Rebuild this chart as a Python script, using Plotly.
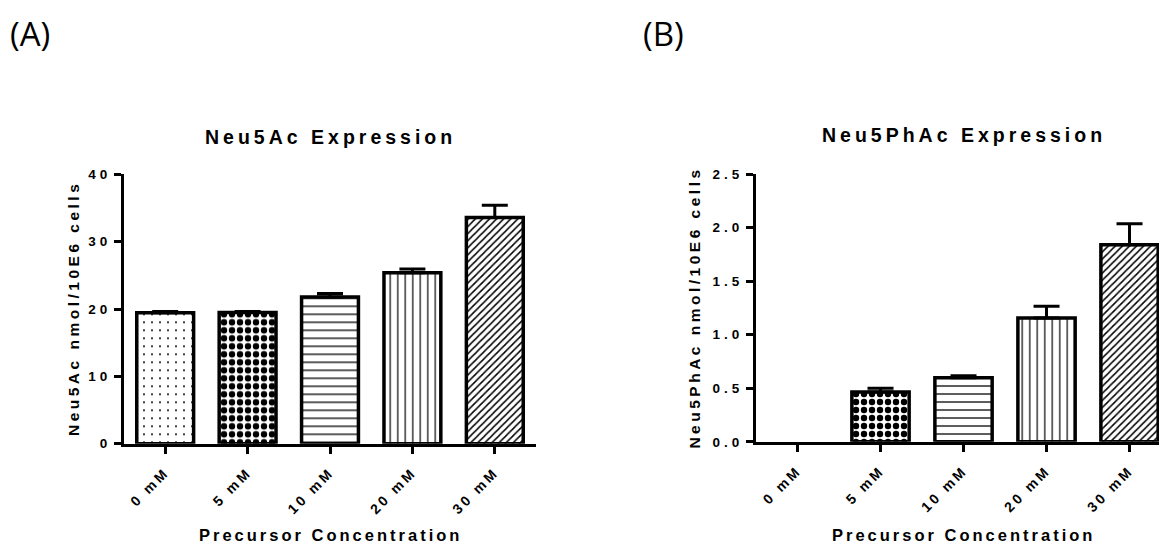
import plotly.graph_objects as go

# ---------------- data ----------------
categories = ["0 mM", "5 mM", "10 mM", "20 mM", "30 mM"]
neu5ac_mean = [19.45, 19.5, 21.8, 25.4, 33.6]
neu5ac_err = [0.2, 0.15, 0.5, 0.55, 1.8]
neu5phac_mean = [0.0, 0.465, 0.598, 1.157, 1.839]
neu5phac_err = [None, 0.035, 0.018, 0.108, 0.196]
a_ticks = [0, 10, 20, 30, 40]
a_ticklabels = ["0", "10", "20", "30", "40"]
b_ticks = [0.0, 0.5, 1.0, 1.5, 2.0, 2.5]
b_ticklabels = ["0.0", "0.5", "1.0", "1.5", "2.0", "2.5"]
titles = ["Neu5Ac Expression", "Neu5PhAc Expression"]
ytitles = ["Neu5Ac nmol/10E6 cells", "Neu5PhAc nmol/10E6 cells"]
xtitle = "Precursor Concentration"
panel_labels = ["(A)", "(B)"]

# ---------------- style ----------------
W, H = 1159, 550
FONT = "Liberation Sans, Arial, sans-serif"
shapes = [".", ".", "-", "|", "/"]
psizes = [8, 8, 8, 7.5, 5]
psolid = [0.05, 0.5, 0.16, 0.16, 0.3]


def ls(text, px):
    return f'<span style="letter-spacing:{px}px">{text}</span>'


def px_x(p):
    return p / W


def px_y(p):
    return 1 - p / H


def err_plus(errs):
    # missing values -> "NaN" so plotly skips drawing that error bar
    return ["NaN" if e is None else e for e in errs]


def err_minus(errs):
    return ["NaN" if e is None else 0 for e in errs]


fig = go.Figure()

pattern = dict(shape=shapes, size=psizes, solidity=psolid,
               fgcolor="black", bgcolor="white", fillmode="replace")

fig.add_trace(go.Bar(
    x=categories, y=neu5ac_mean, xaxis="x", yaxis="y",
    marker=dict(color="white", line=dict(color="black", width=3.5), pattern=pattern),
    error_y=dict(type="data", array=err_plus(neu5ac_err), arrayminus=err_minus(neu5ac_err),
                 symmetric=False, color="black", thickness=3, width=13),
    showlegend=False,
))
fig.add_trace(go.Bar(
    x=categories, y=neu5phac_mean, xaxis="x2", yaxis="y2",
    marker=dict(color="white",
                line=dict(color="black", width=[0 if v == 0 else 3.5 for v in neu5phac_mean]),
                pattern=pattern),
    error_y=dict(type="data", array=err_plus(neu5phac_err), arrayminus=err_minus(neu5phac_err),
                 symmetric=False, color="black", thickness=3, width=13),
    showlegend=False,
))

tickfont = dict(family=FONT, size=13.5, color="black", weight="bold")
xtickfont = dict(family=FONT, size=14, color="black", weight="bold")
xcommon = dict(type="category", showline=True, linecolor="black", linewidth=3,
               ticks="outside", ticklen=7, tickwidth=3, tickcolor="black",
               tickangle=-45, tickfont=xtickfont, showgrid=False, zeroline=False,
               tickvals=categories, ticktext=[ls(c, 3) for c in categories],
               fixedrange=True, ticklabelstandoff=5)
ycommon = dict(showline=True, linecolor="black", linewidth=3,
               ticks="outside", ticklen=7, tickwidth=3, tickcolor="black",
               tickfont=tickfont, showgrid=False, zeroline=False, fixedrange=True)

fig.update_layout(
    width=W, height=H, autosize=False,
    margin=dict(l=0, r=0, t=0, b=0),
    paper_bgcolor="white", plot_bgcolor="white",
    bargap=0.31,
    xaxis=dict(domain=[px_x(124), px_x(536)], range=[-0.5, 4.5], anchor="y", **xcommon),
    yaxis=dict(domain=[px_y(449), px_y(172)], range=[0, 40], anchor="x",
               tickvals=a_ticks, ticktext=[ls(t, 4) for t in a_ticklabels], **ycommon),
    xaxis2=dict(domain=[px_x(756), 1.0], range=[-0.5, 4.355], anchor="y2", **xcommon),
    yaxis2=dict(domain=[px_y(447), px_y(171.7)], range=[0, 2.5], anchor="x2",
                tickvals=b_ticks, ticktext=[ls(t, 4) for t in b_ticklabels], **ycommon),
)

ann = []
# panel labels
for lab, cx in zip(panel_labels, [30, 663]):
    ann.append(dict(text=lab, x=px_x(cx), y=px_y(27), xref="paper", yref="paper",
                    showarrow=False, xanchor="center", yanchor="middle",
                    font=dict(family="Open Sans, sans-serif", size=33, color="black")))
# titles
for t, cx, cy in zip(titles, [330, 963.5], [134, 132]):
    ann.append(dict(text=ls(t, 4), x=px_x(cx), y=px_y(cy), xref="paper", yref="paper",
                    showarrow=False, xanchor="center", yanchor="middle",
                    font=dict(family=FONT, size=19.5, color="black", weight="bold")))
# x axis titles
for cx in [330, 963]:
    ann.append(dict(text=ls(xtitle, 3), x=px_x(cx), y=px_y(543), xref="paper", yref="paper",
                    showarrow=False, xanchor="center", yanchor="middle",
                    font=dict(family=FONT, size=16.5, color="black", weight="bold")))
# y axis titles
for t, cx, cy in zip(ytitles, [73, 695], [310.5, 309]):
    ann.append(dict(text=ls(t, 3.5), x=px_x(cx), y=px_y(cy), xref="paper", yref="paper",
                    showarrow=False, xanchor="center", yanchor="middle", textangle=-90,
                    font=dict(family=FONT, size=15.5, color="black", weight="bold")))
fig.update_layout(annotations=ann)

fig.write_html("out.html", config={"displayModeBar": False},
               post_script="document.body.style.margin='0';document.body.style.overflow='hidden';")
